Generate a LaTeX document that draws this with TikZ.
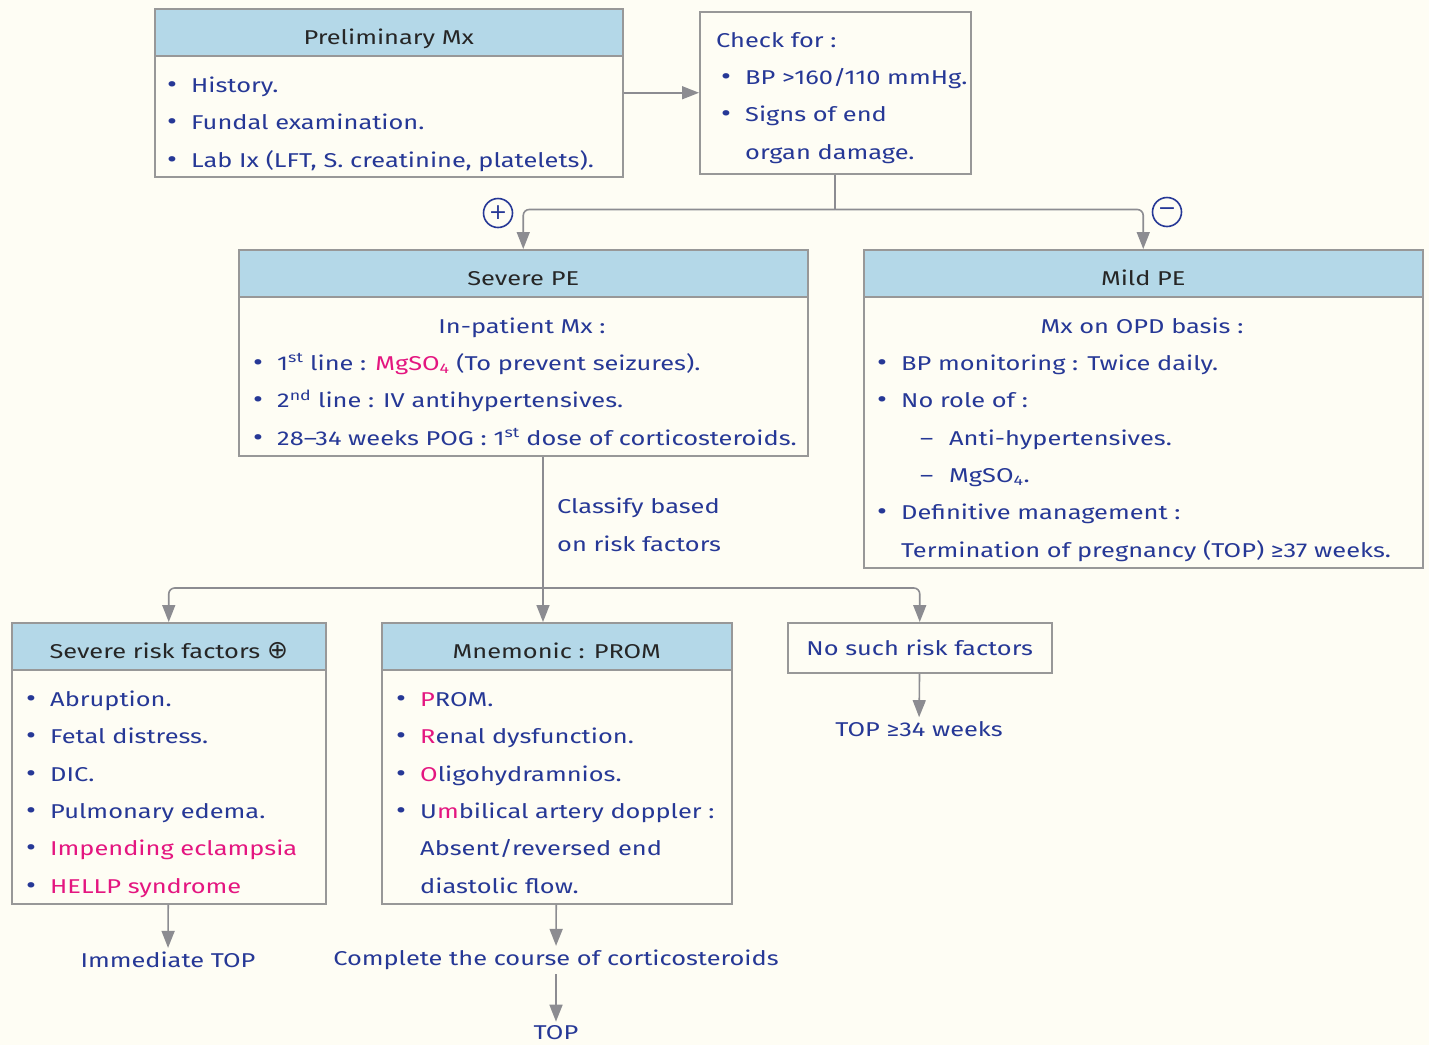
\documentclass[tikz,border=0pt]{standalone}
\usepackage{fontspec}
\setmainfont{Fira Sans}[FakeStretch=1.27]
\newfontfamily\symfont{DejaVu Sans}
\usetikzlibrary{arrows.meta, positioning, calc}

\definecolor{ink}{RGB}{38,56,150}
\definecolor{hot}{RGB}{228,22,128}
\definecolor{headfill}{RGB}{180,216,232}
\definecolor{boxline}{RGB}{152,152,152}
\definecolor{paper}{RGB}{254,253,244}
\definecolor{wirecol}{RGB}{140,140,145}

\newcommand{\bul}{\makebox[25pt][l]{\hspace*{1pt}{\fontsize{24}{0}\selectfont\textbullet}}}
\newcommand{\dsh}{\hspace*{44pt}\makebox[29pt][l]{--}}
\newcommand{\gap}{\makebox[25pt]{}}
\newcommand{\hot}[1]{\textcolor{hot}{#1}}

\tikzset{
  panel/.style={draw=boxline, line width=1.5pt, fill=paper, anchor=north west, inner sep=0},
  head/.style={panel, fill=headfill, text=black!85, minimum height=47,
    text height=25, text depth=0, font=\fontsize{20}{24}\selectfont},
  body/.style={text=ink, align=left, anchor=base west, inner sep=0,
    font=\fontsize{20}{37.3}\selectfont},
  note/.style={text=ink, inner sep=4pt, font=\fontsize{20}{37}\selectfont},
  wire/.style={draw=wirecol, line width=1.6pt},
  elbow/.style={wire, rounded corners=6pt},
  sign/.style={circle, draw=ink, line width=1.6pt, minimum size=29, inner sep=0,
    text=ink, font=\symfont\fontsize{22}{24}\selectfont},
}

\begin{document}
\begin{tikzpicture}[x=1pt, y=-1pt, >={Triangle[length=17pt,width=13pt]}]
  \fill[paper] (0,0) rectangle (1429,1045);
  \useasboundingbox (0,0) rectangle (1429,1045);

  % Preliminary management (body nodes sit on their last baseline)
  \node[panel, minimum width=468, minimum height=168] (prelim) at (154,8) {};
  \node[head, minimum width=468] (prelimH) at (prelim.north west) {Preliminary Mx};
  \node[body] (prelimT) at (166,167) {\bul History.\\ \bul Fundal examination.\\
    \bul Lab Ix (LFT, S. creatinine, platelets).};

  % Check for
  \node[panel, minimum width=271, minimum height=162] (check) at (699,11) {};
  \node[body] (checkT) at (716,159) {Check for :\\
    \hspace*{4pt}\bul BP >160/110 mmHg.\\
    \hspace*{4pt}\bul Signs of end\\
    \hspace*{4pt}\gap organ damage.};

  % Severe PE
  \node[panel, minimum width=569, minimum height=206] (severe) at (238,249) {};
  \node[head, minimum width=569] (severeH) at (severe.north west) {Severe PE};
  \node[note, anchor=base, inner sep=0] (severeSub) at (522,333) {In-patient Mx :};
  \node[body] (severeT) at (252,445) {%
    \bul 1\textsuperscript{st} line : \hot{MgSO\textsubscript{4}} (To prevent seizures).\\
    \bul 2\textsuperscript{nd} line : IV antihypertensives.\\
    \bul 28--34 weeks POG : 1\textsuperscript{st} dose of corticosteroids.};

  % Mild PE
  \node[panel, minimum width=559, minimum height=318] (mild) at (863,249) {};
  \node[head, minimum width=559] (mildH) at (mild.north west) {Mild PE};
  \node[note, anchor=base, inner sep=0] (mildSub) at (1142,333) {Mx on OPD basis :};
  \node[body] (mildT) at (876,557) {%
    \bul BP monitoring : Twice daily.\\
    \bul No role of :\\
    \dsh Anti-hypertensives.\\
    \dsh MgSO\textsubscript{4}.\\
    \bul Definitive management :\\
    \gap Termination of pregnancy (TOP) ≥37 weeks.};

  % Plus / minus
  \node[sign] (yes) at (498,213) {+};
  \node[sign] (no) at (1167,212) {−};

  % Risk factor boxes
  \node[panel, minimum width=314, minimum height=281] (risk) at (11,622) {};
  \node[head, minimum width=314] (riskH) at (risk.north west)
    {Severe risk factors {\symfont\fontsize{25}{24}\selectfont ⊕}};
  \node[body] (riskT) at (25,893) {%
    \bul Abruption.\\ \bul Fetal distress.\\ \bul DIC.\\ \bul Pulmonary edema.\\
    \bul \hot{Impending eclampsia}\\ \bul \hot{HELLP syndrome}};

  \node[panel, minimum width=350, minimum height=281] (prom) at (381,622) {};
  \node[head, minimum width=350] (promH) at (prom.north west) {Mnemonic : PROM};
  \node[body] (promT) at (395,893) {%
    \bul \hot{P}ROM.\\ \bul \hot{R}enal dysfunction.\\ \bul \hot{O}ligohydramnios.\\
    \bul U\hot{m}bilical artery doppler :\\ \gap Absent/reversed end\\ \gap diastolic flow.};

  \node[panel, minimum width=264, minimum height=50, text=ink,
    font=\fontsize{20}{24}\selectfont] (nosuch) at (787,622) {No such risk factors};

  \node[body] (classify) at (557,551) {Classify based\\ on risk factors};

  % Outcomes
  \node[note] (immtop) at (168,960) {Immediate TOP};
  \node[note] (course) at (556,960) {Complete the course of corticosteroids};
  \node[note] (top) at (556,1033) {TOP};
  \node[note] (top34) at (919,729) {TOP ≥34 weeks};

  % Connectors
  \draw[wire,->] (prelim) -- (check);
  \draw[wire] (check.south) -- ++(0,35) coordinate (split);
  \draw[elbow,->] (split) -| (severe.north);
  \draw[elbow,->] (split) -| (mild.north);

  \coordinate (fork) at (543,588);
  \draw[wire,->] (fork |- severe.south) -- (fork |- prom.north);
  \draw[elbow,->] (fork) -| (risk.north);
  \draw[elbow,->] (fork) -| (nosuch.north);

  \draw[wire,->] (risk) -- (immtop);
  \draw[wire,->] (prom) -- (course);
  \draw[wire,->] (course) -- (top);
  \draw[wire,->] (nosuch) -- (top34);
\end{tikzpicture}
\end{document}
